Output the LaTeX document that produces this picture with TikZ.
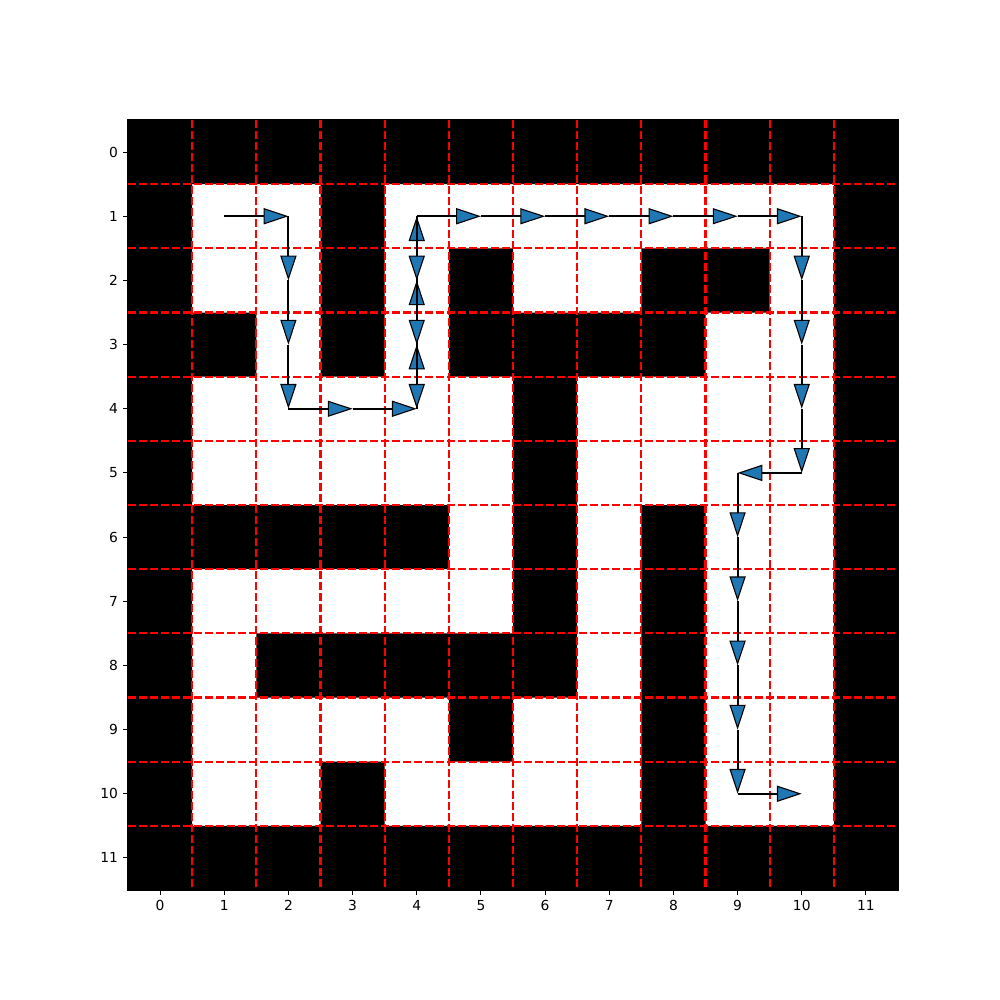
\documentclass[tikz,border=0pt]{standalone}
\usepackage{fontspec}
\setmainfont{DejaVu Sans}
\usetikzlibrary{arrows.meta}
\definecolor{mplblue}{HTML}{1F77B4}
\tikzset{
  wall/.style={fill=black},
  gridline/.style={red, line width=1.5pt, dash pattern=on 5.55pt off 2.4pt},
  seg/.style={black, line width=1.4pt, -{Triangle[length=6.3mm,width=4.1mm,fill=mplblue,line width=0.8pt]}},
  tickmark/.style={black, line width=0.8pt},
  ticklabel/.style={font=\fontsize{10}{12}\selectfont, inner sep=0pt}
}
\begin{document}
\begin{tikzpicture}[x=16.2983mm, y=-16.2983mm]
\useasboundingbox (-2.4948,-2.3701) rectangle (13.0896,13.2143);
% cell coordinates
\foreach \x in {0,...,11} {\foreach \y in {0,...,11} {\coordinate (c\x-\y) at (\x,\y);}}
% walls
\fill[wall] \foreach \y/\xs in {0/{0,1,2,3,4,5,6,7,8,9,10,11}, 1/{0,3,11}, 2/{0,3,5,8,9,11}, 3/{0,1,3,5,6,7,8,11}, 4/{0,6,11}, 5/{0,6,11}, 6/{0,1,2,3,4,6,8,11}, 7/{0,6,8,11}, 8/{0,2,3,4,5,6,8,11}, 9/{0,5,8,11}, 10/{0,3,8,11}, 11/{0,1,2,3,4,5,6,7,8,9,10,11}} {\foreach \x in \xs {(\x-0.5,\y-0.5) rectangle (\x+0.5,\y+0.5)}};
% axes frame
\draw[tickmark] (-0.5,-0.5) rectangle (11.5,11.5);
% grid
\foreach \k in {0,...,10} {
  \draw[gridline] (\k+0.5,-0.5) -- (\k+0.5,11.5);
  \draw[gridline] (-0.5,\k+0.5) -- (11.5,\k+0.5);
}
% ticks and labels
\foreach \k in {0,...,11} {
  \draw[tickmark] (-0.5,\k) -- ++(-3.5pt,0);
  \node[ticklabel, anchor=east] (ly\k) at ([xshift=-7pt]-0.5,\k) {\k};
  \draw[tickmark] (\k,11.5) -- ++(0,-3.5pt);
  \node[ticklabel, anchor=north] (lx\k) at ([yshift=-7pt]\k,11.5) {\k};
}
% path
\foreach \a/\b in {c1-1/c2-1, c2-1/c2-2, c2-2/c2-3, c2-3/c2-4, c2-4/c3-4, c3-4/c4-4,
  c4-4/c4-3, c4-3/c4-2, c4-2/c4-1, c4-1/c4-2, c4-2/c4-3, c4-3/c4-4,
  c4-1/c5-1, c5-1/c6-1, c6-1/c7-1, c7-1/c8-1, c8-1/c9-1, c9-1/c10-1,
  c10-1/c10-2, c10-2/c10-3, c10-3/c10-4, c10-4/c10-5, c10-5/c9-5,
  c9-5/c9-6, c9-6/c9-7, c9-7/c9-8, c9-8/c9-9, c9-9/c9-10, c9-10/c10-10} {
  \draw[seg] (\a) -- (\b);
}
\end{tikzpicture}
\end{document}
